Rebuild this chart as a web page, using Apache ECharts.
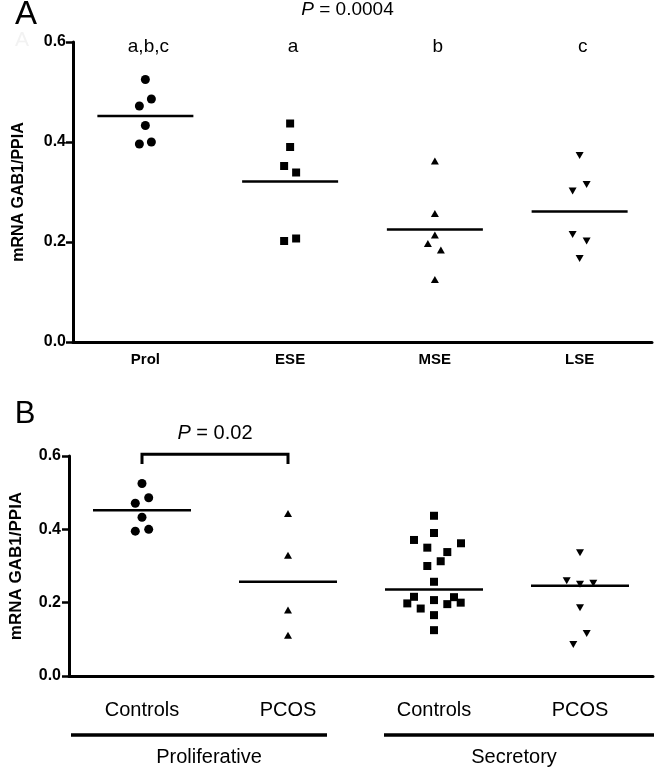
<!DOCTYPE html>
<html><head><meta charset="utf-8">
<script src="https://cdn.jsdelivr.net/npm/echarts@6/dist/echarts.min.js"></script>
<style>html,body{margin:0;padding:0;background:#fff}#c{width:656px;height:769px}</style>
</head><body><div id="c"></div>
<script>
// ---------- data: panel A ----------
const catsA = ['Prol', 'ESE', 'MSE', 'LSE'];
const prolA = [0.525, 0.486, 0.472, 0.433, 0.400, 0.396];
const eseA  = [0.437, 0.390, 0.352, 0.339, 0.202, 0.207];
const mseA  = [0.362, 0.257, 0.214, 0.197, 0.184, 0.125];
const lseA  = [0.373, 0.315, 0.302, 0.215, 0.202, 0.167];
const centerA = [0.452, 0.321, 0.225, 0.261];
const lettersA = ['a,b,c', 'a', 'b', 'c'];
const pTextA = '0.0004';

// ---------- data: panel B ----------
const catsB = ['Controls', 'PCOS', 'Controls', 'PCOS'];
const groupsB = ['Proliferative', 'Secretory'];
const prolCtrlB = [0.525, 0.486, 0.471, 0.433, 0.395, 0.400];
const prolPcosB = [0.443, 0.329, 0.180, 0.111];
const secCtrlB  = [0.437, 0.390, 0.371, 0.362, 0.350, 0.338, 0.313, 0.300, 0.257,
                   0.216, 0.198, 0.184, 0.207, 0.196, 0.215, 0.200, 0.166, 0.125];
const secPcosB  = [0.336, 0.260, 0.250, 0.253, 0.186, 0.116, 0.086];
const centerB = [0.452, 0.257, 0.236, 0.246];
const pTextB = '0.02';

const yTicks = [0.0, 0.2, 0.4, 0.6];
const yTitle = 'mRNA GAB1/PPIA';

// ---------- style: horizontal scatter spread (px) ----------
const spreadA = {
  prol: [0, 6, -6, 0, 6, -6],
  ese:  [0, 0, -6, 6, -6, 6],
  mse:  [0, 0, 0, -7, 6, 0],
  lse:  [0, 7, -7, -7, 7, 0]
};
const spreadB = {
  prolCtrl: [0, 6.7, -6.7, 0, -6.7, 6.7],
  prolPcos: [0, 0, 0, 0],
  secCtrl:  [0, 0, -20, 27, -6.7, 13.3, 6.7, -6.7, 0, -20, -26.7, -13.3, 0, 13.3, 20, 26.7, 0, 0],
  secPcos:  [0, -13.3, 0, 13.3, 0, 6.7, -6.7]
};

const FONT = '"Liberation Sans", Arial, Helvetica, sans-serif';

function pts(gi, ci, vals, spread, symbol, size, rot) {
  return {
    type: 'scatter', xAxisIndex: gi, yAxisIndex: gi,
    symbol: symbol, symbolSize: size, symbolRotate: rot || 0,
    itemStyle: { color: '#000', opacity: 1 }, z: 3, silent: true,
    data: vals.map((v, k) => ({ value: [ci, v], symbolOffset: [spread[k], 0] }))
  };
}
function centerSeries(gi, vals, w) {
  return {
    type: 'scatter', xAxisIndex: gi, yAxisIndex: gi,
    symbol: 'rect', symbolSize: [w, 2.5], itemStyle: { color: '#000', opacity: 1 }, z: 2, silent: true,
    data: vals.map((v, i) => [i, v])
  };
}
function yAxis(gi, fs, gap, margin) {
  return {
    type: 'value', gridIndex: gi, min: yTicks[0], max: yTicks[yTicks.length - 1], interval: 0.2,
    name: yTitle, nameLocation: 'middle', nameRotate: 90, nameGap: gap,
    nameTextStyle: { fontFamily: FONT, fontWeight: 'bold', fontSize: fs, color: '#000' },
    axisLine: { show: true, lineStyle: { color: '#000', width: 3 } },
    axisTick: { show: true, length: 7, lineStyle: { color: '#000', width: 2.5 } },
    splitLine: { show: false },
    axisLabel: { fontFamily: FONT, fontWeight: 'bold', fontSize: 16, color: '#000', margin: margin,
                 formatter: v => v.toFixed(1) }
  };
}

const chart = echarts.init(document.getElementById('c'), null, { renderer: 'canvas' });
chart.setOption({
  backgroundColor: '#fff',
  animation: false,
  grid: [
    { left: 73, top: 42, width: 579, height: 300 },
    { left: 66, top: 456, width: 587, height: 220 }
  ],
  xAxis: [
    { type: 'category', gridIndex: 0, data: catsA, boundaryGap: true,
      axisLine: { lineStyle: { color: '#000', width: 3 } },
      axisTick: { alignWithLabel: true, length: 7, lineStyle: { color: '#000', width: 2.5 } },
      axisLabel: { fontFamily: FONT, fontWeight: 'bold', fontSize: 15, color: '#000', margin: 10 } },
    { type: 'category', gridIndex: 1, data: catsB, boundaryGap: true,
      axisLine: { lineStyle: { color: '#000', width: 3 } },
      axisTick: { alignWithLabel: true, length: 7, lineStyle: { color: '#000', width: 2.5 } },
      axisLabel: { fontFamily: FONT, fontSize: 20, color: '#000', margin: 24 } }
  ],
  yAxis: [ yAxis(0, 16, 46, 7), yAxis(1, 17, 44, 8) ],
  series: [
    centerSeries(0, centerA, 96),
    pts(0, 0, prolA, spreadA.prol, 'circle', 9),
    pts(0, 1, eseA, spreadA.ese, 'rect', 8),
    pts(0, 2, mseA, spreadA.mse, 'triangle', [8, 7]),
    pts(0, 3, lseA, spreadA.lse, 'triangle', [8, 7], 180),
    {
      type: 'scatter', xAxisIndex: 0, yAxisIndex: 0, symbolSize: 0, silent: true,
      itemStyle: { opacity: 1 },
      data: lettersA.map((t, i) => [i, 0.59]),
      label: { show: true, position: 'inside', offset: [3, 0], color: '#000', opacity: 1,
               fontFamily: FONT, fontSize: 19, formatter: p => lettersA[p.dataIndex] }
    },
    centerSeries(1, centerB, 98),
    pts(1, 0, prolCtrlB, spreadB.prolCtrl, 'circle', 9),
    pts(1, 1, prolPcosB, spreadB.prolPcos, 'triangle', [8, 7]),
    pts(1, 2, secCtrlB, spreadB.secCtrl, 'rect', 8),
    pts(1, 3, secPcosB, spreadB.secPcos, 'triangle', [8, 7], 180)
  ]
});

// annotations positioned through the chart's own scales
const pB = (c, v) => chart.convertToPixel({ xAxisIndex: 1, yAxisIndex: 1 }, [c, v]);
const c0 = pB(0, 0.6), c1 = pB(1, 0.6), c2 = pB(2, 0), c3 = pB(3, 0);
const brTop = pB(0, 0.605)[1], brLeg = pB(0, 0.578)[1];
const baseB = pB(0, 0)[1];
const lineY = baseB + 59, labY = baseB + 81;
const richP = (fs) => ({
  i: { fontStyle: 'italic', fontSize: fs, fontFamily: FONT, fill: '#000' },
  n: { fontSize: fs, fontFamily: FONT, fill: '#000' }
});

chart.setOption({
  graphic: [
    { type: 'text', x: 26, y: 15, style: { text: 'A', font: '33px ' + FONT, fill: '#000', textAlign: 'center', textVerticalAlign: 'middle' } },
    { type: 'text', x: 22, y: 40, style: { text: 'A', font: '21px ' + FONT, fill: '#f2f2f2', textAlign: 'center', textVerticalAlign: 'middle' } },
    { type: 'text', x: 347.5, y: 10, style: { text: '{i|P}{n| = ' + pTextA + '}', rich: richP(19), textAlign: 'center', textVerticalAlign: 'middle' } },
    { type: 'text', x: 25, y: 414, style: { text: 'B', font: '31px ' + FONT, fill: '#000', textAlign: 'center', textVerticalAlign: 'middle' } },
    { type: 'polyline', shape: { points: [[c0[0], brLeg], [c0[0], brTop], [c1[0], brTop], [c1[0], brLeg]] },
      style: { stroke: '#000', lineWidth: 3, fill: null } },
    { type: 'text', x: (c0[0] + c1[0]) / 2, y: brTop - 21, style: { text: '{i|P}{n| = ' + pTextB + '}', rich: richP(20), textAlign: 'center', textVerticalAlign: 'middle' } },
    { type: 'line', shape: { x1: c0[0] - 71, y1: lineY, x2: c1[0] + 39, y2: lineY }, style: { stroke: '#000', lineWidth: 3.5 } },
    { type: 'line', shape: { x1: c2[0] - 50, y1: lineY, x2: c3[0] + 74, y2: lineY }, style: { stroke: '#000', lineWidth: 3.5 } },
    { type: 'text', x: (c0[0] + c1[0]) / 2 - 6, y: labY, style: { text: groupsB[0], font: '20px ' + FONT, fill: '#000', textAlign: 'center', textVerticalAlign: 'middle' } },
    { type: 'text', x: (c2[0] + c3[0]) / 2 + 7, y: labY, style: { text: groupsB[1], font: '20px ' + FONT, fill: '#000', textAlign: 'center', textVerticalAlign: 'middle' } }
  ]
});
</script>
</body></html>
